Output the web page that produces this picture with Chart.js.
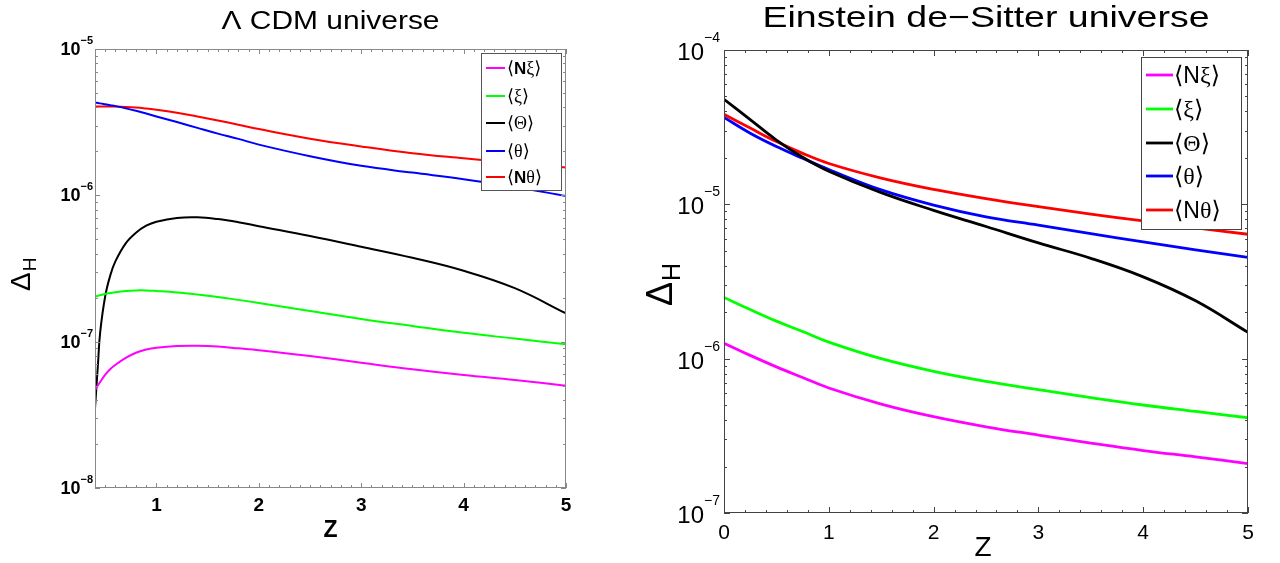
<!DOCTYPE html>
<html>
<head>
<meta charset="utf-8">
<script src="https://cdn.jsdelivr.net/npm/chart.js@4.4.1/dist/chart.umd.min.js"></script>
<style>
    html, body { margin: 0; padding: 0; background: #fff; }
    .panel { position: absolute; top: 0; width: 640px; height: 563px; }
    #leftPanel { left: 0; }
    #rightPanel { left: 640px; }
</style>
</head>
<body>
<div class="panel" id="leftPanel"><canvas id="lcdmChart" width="640" height="563"></canvas></div>
<div class="panel" id="rightPanel"><canvas id="edsChart" width="640" height="563"></canvas></div>
<script>
// Legend labels (same order in both panels)
const seriesLabels = ['⟨Nξ⟩', '⟨ξ⟩', '⟨Θ⟩', '⟨θ⟩', '⟨Nθ⟩'];
const seriesColors = ['#ff00ff', '#00ff00', '#000000', '#0000ff', '#ff0000'];

// ΛCDM universe (left)
const lcdmZ = [0.4, 0.43, 0.45, 0.5, 0.55, 0.6, 0.7, 0.8, 0.9, 1, 1.2, 1.4, 1.6, 1.8, 2, 2.5, 3, 3.5, 4, 4.5, 5];
const lcdmNXi = [4.67e-8, 5.05e-8, 5.3e-8, 5.95e-8, 6.5e-8, 6.95e-8, 7.75e-8, 8.4e-8, 8.85e-8, 9.1e-8, 9.33e-8, 9.37e-8, 9.25e-8, 9.0e-8, 8.75e-8, 7.97e-8, 7.18e-8, 6.47e-8, 5.91e-8, 5.47e-8, 5.0e-8];
const lcdmXi = [2.03e-7, 2.06e-7, 2.08e-7, 2.12e-7, 2.15e-7, 2.18e-7, 2.22e-7, 2.24e-7, 2.24e-7, 2.22e-7, 2.17e-7, 2.10e-7, 2.02e-7, 1.93e-7, 1.84e-7, 1.62e-7, 1.43e-7, 1.28e-7, 1.15e-7, 1.05e-7, 0.96e-7];
const lcdmBigTheta = [3.5e-8, 7.2e-8, 1.15e-7, 2.05e-7, 2.85e-7, 3.55e-7, 4.7e-7, 5.55e-7, 6.2e-7, 6.6e-7, 7.0e-7, 7.07e-7, 6.88e-7, 6.55e-7, 6.15e-7, 5.27e-7, 4.45e-7, 3.74e-7, 3.05e-7, 2.32e-7, 1.56e-7];
const lcdmTheta = [4.30e-6, 4.27e-6, 4.25e-6, 4.19e-6, 4.13e-6, 4.07e-6, 3.93e-6, 3.78e-6, 3.62e-6, 3.46e-6, 3.17e-6, 2.89e-6, 2.64e-6, 2.43e-6, 2.22e-6, 1.85e-6, 1.59e-6, 1.43e-6, 1.29e-6, 1.14e-6, 0.99e-6];
const lcdmNTheta = [4.04e-6, 4.04e-6, 4.04e-6, 4.04e-6, 4.04e-6, 4.04e-6, 4.02e-6, 3.98e-6, 3.92e-6, 3.85e-6, 3.67e-6, 3.46e-6, 3.25e-6, 3.04e-6, 2.84e-6, 2.44e-6, 2.16e-6, 1.94e-6, 1.79e-6, 1.66e-6, 1.55e-6];

// Einstein de-Sitter universe (right)
const edsZ = [0, 0.25, 0.5, 0.75, 1, 1.5, 2, 2.5, 3, 3.5, 4, 4.5, 5];
const edsNXi = [1.26e-6, 1.05e-6, 8.85e-7, 7.55e-7, 6.46e-7, 5.08e-7, 4.21e-7, 3.62e-7, 3.20e-7, 2.84e-7, 2.54e-7, 2.31e-7, 2.09e-7];
const edsXi = [2.49e-6, 2.08e-6, 1.75e-6, 1.50e-6, 1.28e-6, 1.0e-6, 8.28e-7, 7.13e-7, 6.30e-7, 5.60e-7, 5.01e-7, 4.55e-7, 4.14e-7];
const edsBigTheta = [4.79e-5, 3.54e-5, 2.61e-5, 2.02e-5, 1.64e-5, 1.19e-5, 9.14e-6, 7.18e-6, 5.62e-6, 4.47e-6, 3.39e-6, 2.37e-6, 1.48e-6];
const edsTheta = [3.66e-5, 2.89e-5, 2.37e-5, 1.99e-5, 1.68e-5, 1.24e-5, 9.89e-6, 8.30e-6, 7.33e-6, 6.46e-6, 5.71e-6, 5.07e-6, 4.53e-6];
const edsNTheta = [3.83e-5, 3.12e-5, 2.55e-5, 2.14e-5, 1.84e-5, 1.48e-5, 1.25e-5, 1.09e-5, 9.66e-6, 8.65e-6, 7.80e-6, 7.05e-6, 6.40e-6];

const lcdmXTicks = [1, 2, 3, 4, 5];
const edsXTicks = [0, 1, 2, 3, 4, 5];

function makeDatasets(zs, series, width) {
    return series.map((vals, i) => ({
        label: seriesLabels[i],
        data: zs.map((z, k) => ({ x: z, y: vals[k] })),
        borderColor: seriesColors[i],
        backgroundColor: seriesColors[i],
        borderWidth: width,
        pointRadius: 0,
        fill: false,
        tension: 0.4
    }));
}

// draws the matlab-like box, inward ticks, y labels, titles and legend
const panelDecor = {
    id: 'panelDecor',
    afterDraw(chart, args, o) {
        const ctx = chart.ctx;
        const a = chart.chartArea;
        const xs = chart.scales.x, ys = chart.scales.y;
        ctx.save();

        // ticks
        ctx.strokeStyle = o.axisColor;
        ctx.lineWidth = 1;
        ctx.beginPath();
        const n0 = Math.ceil(xs.min / o.xMinorStep - 1e-6);
        const n1 = Math.floor(xs.max / o.xMinorStep + 1e-6);
        for (let k = n0; k <= n1; k++) {
            const v = k * o.xMinorStep;
            const px = Math.round(xs.getPixelForValue(v)) + 0.5;
            const len = Math.abs(v - Math.round(v)) < 1e-6 ? o.majorLen : o.minorLen;
            ctx.moveTo(px, a.bottom); ctx.lineTo(px, a.bottom - len);
            ctx.moveTo(px, a.top); ctx.lineTo(px, a.top + len);
        }
        const e0 = Math.round(Math.log10(ys.min));
        const e1 = Math.round(Math.log10(ys.max));
        for (let e = e0; e <= e1; e++) {
            for (let m = 1; m <= 9; m++) {
                const v = m * Math.pow(10, e);
                if (v > ys.max * 1.0001) break;
                const py = Math.round(ys.getPixelForValue(v)) + 0.5;
                const len = m === 1 ? o.majorLen : o.minorLen;
                ctx.moveTo(a.left, py); ctx.lineTo(a.left + len, py);
                ctx.moveTo(a.right, py); ctx.lineTo(a.right - len, py);
            }
        }
        ctx.stroke();

        // box
        ctx.strokeRect(Math.round(a.left) + 0.5, Math.round(a.top) + 0.5,
            Math.round(a.right - a.left) - 1, Math.round(a.bottom - a.top) - 1);

        // y labels 10^n
        ctx.fillStyle = '#000';
        ctx.textBaseline = 'alphabetic';
        for (let e = e0; e <= e1; e++) {
            const py = ys.getPixelForValue(Math.pow(10, e));
            const exp = '−' + Math.abs(e);
            ctx.font = o.expFont;
            ctx.textAlign = 'right';
            const xr = a.left - o.labelGap;
            ctx.fillText(exp, xr, py + o.expDy);
            const w = ctx.measureText(exp).width;
            ctx.font = o.baseFont;
            ctx.fillText('10', xr - w - o.expGap, py + o.baseDy);
        }

        // title, stretched to the measured width
        const cx = (a.left + a.right) / 2;
        ctx.font = o.titleFont;
        ctx.textAlign = 'center';
        const tw = ctx.measureText(o.title).width;
        ctx.save();
        ctx.translate(cx, o.titleY);
        ctx.scale(o.titleWidth / tw, 1);
        ctx.fillText(o.title, 0, 0);
        ctx.restore();

        // x axis title
        ctx.font = o.xTitleFont;
        ctx.fillText('Z', cx + o.xTitleDx, o.xTitleY);

        // y axis title Δ_H
        ctx.save();
        ctx.translate(o.yTitleX, o.yTitleY);
        ctx.rotate(-Math.PI / 2);
        ctx.textAlign = 'left';
        ctx.font = o.deltaFont;
        ctx.fillText('Δ', 0, 0);
        const dw = ctx.measureText('Δ').width;
        ctx.font = o.subFont;
        ctx.fillText('H', dw + 1, o.subDrop);
        ctx.restore();

        // legend
        const L = o.legend;
        ctx.fillStyle = '#fff';
        ctx.fillRect(L.x1, L.y1, L.x2 - L.x1, L.y2 - L.y1);
        ctx.strokeStyle = L.border;
        ctx.lineWidth = 1;
        ctx.strokeRect(L.x1 + 0.5, L.y1 + 0.5, L.x2 - L.x1, L.y2 - L.y1);
        ctx.textAlign = 'left';
        chart.data.datasets.forEach((ds, i) => {
            const y = L.rows[i];
            ctx.strokeStyle = ds.borderColor;
            ctx.lineWidth = L.lineWidth;
            ctx.beginPath();
            ctx.moveTo(L.lineX1, y); ctx.lineTo(L.lineX2, y);
            ctx.stroke();
            ctx.fillStyle = '#000';
            let x = L.textX;
            for (const ch of ds.label) {
                ctx.font = ch === 'N' ? L.nFont : L.font;
                ctx.fillText(ch, x, y + L.textDy);
                x += ctx.measureText(ch).width;
            }
        });
        ctx.restore();
    }
};

function makeChart(canvasId, zs, series, cfg) {
    return new Chart(document.getElementById(canvasId), {
        type: 'line',
        data: { datasets: makeDatasets(zs, series, cfg.lineWidth) },
        options: {
            responsive: false,
            animation: false,
            layout: { padding: cfg.padding },
            plugins: {
                legend: { display: false },
                tooltip: { enabled: false },
                panelDecor: cfg.decor
            },
            scales: {
                x: {
                    type: 'linear',
                    min: cfg.xMin,
                    max: cfg.xMax,
                    afterBuildTicks(scale) {
                        scale.ticks = cfg.xTicks.map(v => ({ value: v }));
                    },
                    afterFit(scale) { scale.height = cfg.xHeight; },
                    ticks: {
                        color: '#000',
                        font: cfg.xTickFont,
                        padding: cfg.xTickPad,
                        maxRotation: 0,
                        autoSkip: false
                    },
                    grid: { display: false, drawTicks: false },
                    border: { display: false }
                },
                y: {
                    type: 'logarithmic',
                    min: cfg.yMin,
                    max: cfg.yMax,
                    afterFit(scale) { scale.width = cfg.yWidth; },
                    ticks: { display: false },
                    grid: { display: false, drawTicks: false },
                    border: { display: false }
                }
            }
        },
        plugins: [panelDecor]
    });
}

makeChart('lcdmChart', lcdmZ, [lcdmNXi, lcdmXi, lcdmBigTheta, lcdmTheta, lcdmNTheta], {
    lineWidth: 2,
    padding: { left: 0, top: 49, right: 74, bottom: 0 },
    xMin: 0.4, xMax: 5, xTicks: lcdmXTicks,
    yMin: 1e-8, yMax: 1e-5,
    xHeight: 75, yWidth: 95,
    xTickFont: { family: '"Liberation Sans", Arial, sans-serif', size: 19, weight: 'bold' },
    xTickPad: 6,
    decor: {
        axisColor: '#888',
        xMinorStep: 0.1, majorLen: 5, minorLen: 3,
        baseFont: 'bold 18px "Liberation Sans", Arial, sans-serif',
        expFont: 'bold 11px "Liberation Sans", Arial, sans-serif',
        labelGap: 2, expGap: 0, baseDy: 6, expDy: -5,
        title: 'Λ CDM universe',
        titleFont: '25px "Liberation Sans", Arial, sans-serif',
        titleY: 29, titleWidth: 218,
        xTitleFont: 'bold 23px "Liberation Sans", Arial, sans-serif',
        xTitleDx: 0, xTitleY: 537,
        deltaFont: '28px "Liberation Sans", Arial, sans-serif',
        subFont: '19px "Liberation Sans", Arial, sans-serif',
        yTitleX: 30, yTitleY: 291, subDrop: 6,
        legend: {
            x1: 481, y1: 53, x2: 561, y2: 190,
            border: '#555',
            rows: [68, 96, 123, 151, 177],
            lineX1: 486, lineX2: 505, lineWidth: 2,
            textX: 507, textDy: 6,
            font: '18px "Liberation Serif", "DejaVu Serif", serif',
            nFont: 'bold 17px "Liberation Sans", Arial, sans-serif'
        }
    }
});

makeChart('edsChart', edsZ, [edsNXi, edsXi, edsBigTheta, edsTheta, edsNTheta], {
    lineWidth: 2.8,
    padding: { left: 0, top: 50, right: 32, bottom: 0 },
    xMin: 0, xMax: 5, xTicks: edsXTicks,
    yMin: 1e-7, yMax: 1e-4,
    xHeight: 50, yWidth: 84,
    xTickFont: { family: '"Liberation Sans", Arial, sans-serif', size: 21 },
    xTickPad: 8,
    decor: {
        axisColor: '#444',
        xMinorStep: 0.2, majorLen: 6, minorLen: 3,
        baseFont: '24px "Liberation Sans", Arial, sans-serif',
        expFont: '14px "Liberation Sans", Arial, sans-serif',
        labelGap: 4, expGap: 0, baseDy: 10, expDy: -8,
        title: 'Einstein de−Sitter universe',
        titleFont: '30px "Liberation Sans", Arial, sans-serif',
        titleY: 27, titleWidth: 447,
        xTitleFont: '28px "Liberation Sans", Arial, sans-serif',
        xTitleDx: -3, xTitleY: 556,
        deltaFont: '36px "Liberation Sans", Arial, sans-serif',
        subFont: '25px "Liberation Sans", Arial, sans-serif',
        yTitleX: 32, yTitleY: 306, subDrop: 8,
        legend: {
            x1: 501, y1: 57, x2: 601, y2: 229,
            border: '#444',
            rows: [75, 109, 143, 176, 210],
            lineX1: 506, lineX2: 533, lineWidth: 2.8,
            textX: 534, textDy: 8,
            font: '24px "Liberation Serif", "DejaVu Serif", serif',
            nFont: '23px "Liberation Sans", Arial, sans-serif'
        }
    }
});
</script>
</body>
</html>
